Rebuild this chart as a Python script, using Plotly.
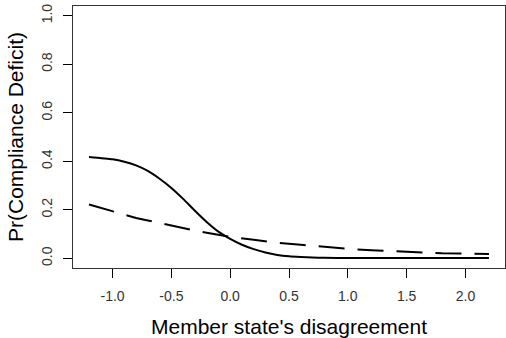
import plotly.graph_objects as go

# Data
x_solid = [-1.2, -1.0, -0.9, -0.8, -0.7, -0.6, -0.5, -0.4, -0.3, -0.2, -0.1, 0.0,
           0.1, 0.2, 0.3, 0.4, 0.5, 0.6, 0.7, 0.8, 1.0, 1.5, 2.0, 2.2]
y_solid = [0.418, 0.408, 0.398, 0.383, 0.360, 0.328, 0.290, 0.245, 0.196, 0.150, 0.110, 0.080,
           0.056, 0.038, 0.024, 0.014, 0.008, 0.005, 0.003, 0.002, 0.001, 0.001, 0.001, 0.001]

x_dashed = [-1.2, -1.0, -0.9, -0.8, -0.7, -0.6, -0.5, -0.4, -0.3, -0.2, -0.1, 0.0,
            0.2, 0.4, 0.6, 0.8, 1.0, 1.2, 1.4, 1.6, 1.8, 2.0, 2.2]
y_dashed = [0.222, 0.195, 0.180, 0.166, 0.156, 0.145, 0.133, 0.123, 0.114, 0.105, 0.097, 0.088,
            0.076, 0.064, 0.056, 0.047, 0.039, 0.033, 0.028, 0.025, 0.021, 0.020, 0.018]

x_ticks = [-1.0, -0.5, 0.0, 0.5, 1.0, 1.5, 2.0]
x_tick_labels = ["-1.0", "-0.5", "0.0", "0.5", "1.0", "1.5", "2.0"]
y_ticks = [0.0, 0.2, 0.4, 0.6, 0.8, 1.0]
y_tick_labels = ["0.0", "0.2", "0.4", "0.6", "0.8", "1.0"]

x_title = "Member state's disagreement"
y_title = "Pr(Compliance Deficit)"

FONT = "Liberation Sans, Arial, sans-serif"

fig = go.Figure()
fig.add_trace(go.Scatter(x=x_solid, y=y_solid, mode="lines",
                         line=dict(color="black", width=2, shape="spline", smoothing=0.6),
                         showlegend=False, hoverinfo="skip"))
fig.add_trace(go.Scatter(x=x_dashed, y=y_dashed, mode="lines",
                         line=dict(color="black", width=2, dash="26px,13px"),
                         showlegend=False, hoverinfo="skip"))

fig.update_layout(
    width=506, height=338,
    margin=dict(l=73, r=1, t=6, b=70),
    paper_bgcolor="white", plot_bgcolor="white",
    font=dict(family=FONT, color="black"),
    xaxis=dict(
        range=[-1.336, 2.336], tickmode="array", tickvals=x_ticks, ticktext=x_tick_labels,
        ticks="outside", ticklen=9, tickwidth=1, tickcolor="black",
        showline=True, linecolor="#333", linewidth=1, mirror=True,
        showgrid=False, zeroline=False, ticklabelstandoff=6,
        tickfont=dict(size=14, color="#333"),
        title=dict(text=x_title, font=dict(size=21, color="black"), standoff=20),
    ),
    yaxis=dict(
        range=[-0.04, 1.04], tickmode="array", tickvals=y_ticks, ticktext=y_tick_labels,
        ticks="outside", ticklen=9, tickwidth=1, tickcolor="black", tickangle=-90,
        showline=True, linecolor="#333", linewidth=1, mirror=True,
        showgrid=False, zeroline=False, ticklabelstandoff=5,
        tickfont=dict(size=14, color="#333"),
        title=dict(text=y_title, font=dict(size=21, color="black"), standoff=10),
    ),
)

fig.write_html("out.html")
